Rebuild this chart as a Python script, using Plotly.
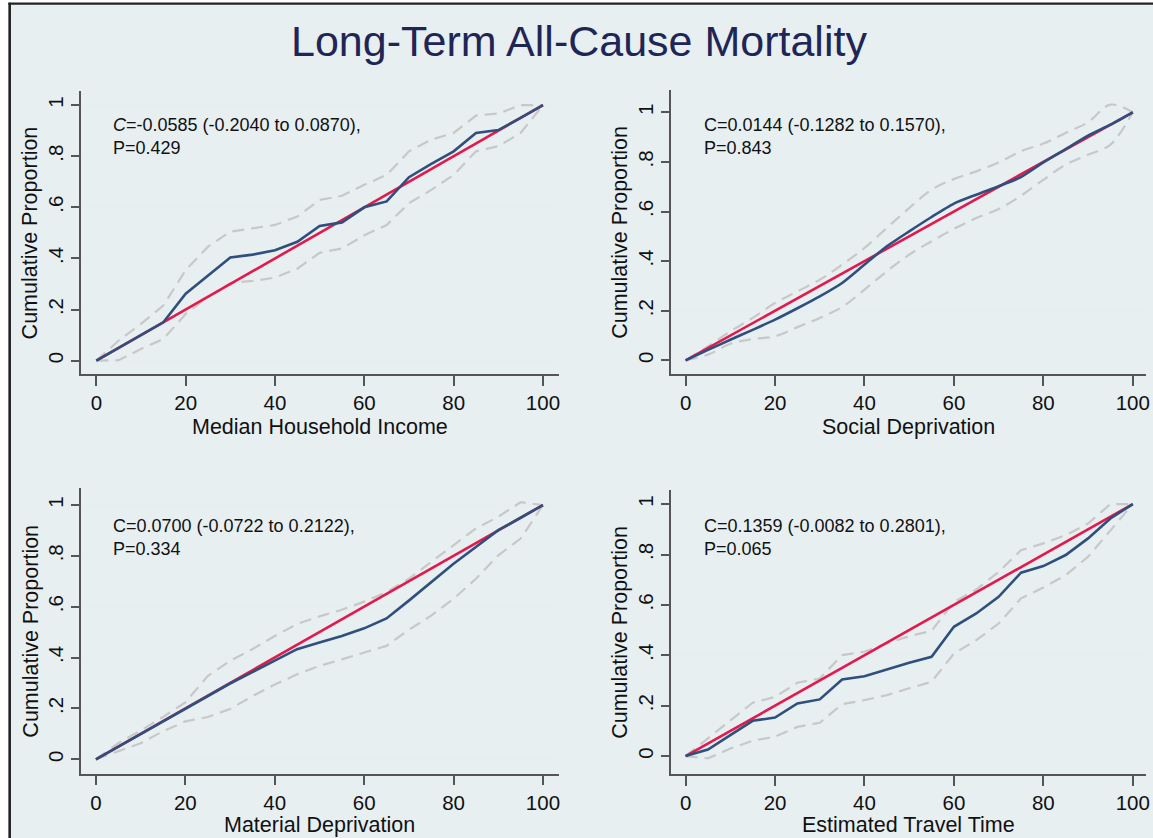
import plotly.graph_objects as go

W, H = 1153, 838

# Percentile grid shared by every panel
pct = [0, 5, 10, 15, 20, 25, 30, 35, 40, 45, 50, 55, 60, 65, 70, 75, 80, 85, 90, 95, 100]

# Line of equality
eq_x = [0, 100]
eq_y = [0, 1]

# Median Household Income
income_obs = [0, 0.05, 0.10, 0.15, 0.262, 0.334, 0.404, 0.415, 0.432, 0.465, 0.527,
              0.541, 0.600, 0.623, 0.718, 0.770, 0.819, 0.891, 0.902, 0.95, 1.0]
income_hi = [0, 0.079, 0.144, 0.216, 0.354, 0.446, 0.505, 0.518, 0.531, 0.564, 0.629,
             0.645, 0.688, 0.727, 0.819, 0.865, 0.891, 0.959, 0.967, 1.0, 1.0]
income_lo = [0, 0.002, 0.046, 0.085, 0.183, 0.249, 0.304, 0.312, 0.325, 0.360, 0.422,
             0.439, 0.491, 0.531, 0.616, 0.668, 0.727, 0.819, 0.839, 0.891, 1.0]

# Social Deprivation
social_obs = [0, 0.042, 0.083, 0.123, 0.164, 0.21, 0.258, 0.312, 0.386, 0.46, 0.52,
              0.578, 0.632, 0.668, 0.702, 0.739, 0.798, 0.852, 0.906, 0.95, 1.0]
social_hi = [0, 0.056, 0.117, 0.171, 0.231, 0.278, 0.325, 0.386, 0.453, 0.534, 0.614,
             0.688, 0.731, 0.762, 0.798, 0.843, 0.874, 0.917, 0.960, 1.031, 1.0]
social_lo = [0, 0.023, 0.067, 0.086, 0.097, 0.134, 0.171, 0.215, 0.285, 0.359, 0.426,
             0.48, 0.53, 0.574, 0.61, 0.664, 0.728, 0.789, 0.829, 0.87, 1.0]

# Material Deprivation
material_obs = [0, 0.05, 0.10, 0.15, 0.20, 0.25, 0.298, 0.343, 0.387, 0.433, 0.459,
                0.485, 0.515, 0.554, 0.624, 0.697, 0.769, 0.835, 0.901, 0.95, 1.0]
material_hi = [0, 0.063, 0.113, 0.166, 0.224, 0.327, 0.387, 0.433, 0.485, 0.532, 0.562,
               0.588, 0.62, 0.657, 0.71, 0.776, 0.842, 0.908, 0.954, 1.011, 1.0]
material_lo = [0, 0.03, 0.063, 0.11, 0.149, 0.166, 0.198, 0.248, 0.294, 0.334, 0.367,
               0.393, 0.42, 0.446, 0.509, 0.565, 0.631, 0.71, 0.802, 0.868, 1.0]

# Estimated Travel Time
travel_obs = [0, 0.026, 0.083, 0.14, 0.153, 0.209, 0.225, 0.304, 0.317, 0.344, 0.37,
              0.394, 0.513, 0.566, 0.632, 0.728, 0.754, 0.798, 0.864, 0.943, 1.0]
travel_hi = [0, 0.07, 0.143, 0.212, 0.235, 0.291, 0.308, 0.401, 0.414, 0.447, 0.476,
             0.497, 0.612, 0.661, 0.731, 0.817, 0.844, 0.877, 0.923, 1.0, 1.0]
travel_lo = [0, -0.009, 0.03, 0.061, 0.077, 0.116, 0.132, 0.206, 0.222, 0.242, 0.269,
             0.295, 0.407, 0.46, 0.526, 0.626, 0.669, 0.718, 0.791, 0.897, 1.0]

panel_titles = ["Median Household Income", "Social Deprivation",
                "Material Deprivation", "Estimated Travel Time"]
panel_stats = [
    "<i>C</i>=-0.0585 (-0.2040 to 0.0870),<br>P=0.429",
    "C=0.0144 (-0.1282 to 0.1570),<br>P=0.843",
    "C=0.0700 (-0.0722 to 0.2122),<br>P=0.334",
    "C=0.1359 (-0.0082 to 0.2801),<br>P=0.065",
]
y_title = "Cumulative Proportion"
x_ticks = [0, 20, 40, 60, 80, 100]
x_ticktext = ["0", "20", "40", "60", "80", "100"]
y_ticks = [0, 0.2, 0.4, 0.6, 0.8, 1]
y_ticktext = ["0", ".2", ".4", ".6", ".8", "1"]

series = [
    (income_obs, income_hi, income_lo),
    (social_obs, social_hi, social_lo),
    (material_obs, material_hi, material_lo),
    (travel_obs, travel_hi, travel_lo),
]

BG = "#e7eff1"
BLUE = "#2f4f7c"
RED = "#e3194e"
GREY = "#c8c8c8"
AXIS = "#555555"
INK = "#111111"
FONT = "Liberation Sans, Arial, sans-serif"

# Panel geometry in pixels: left, right, top, bottom of plot area
boxes = [
    (81, 561, 91, 374),
    (673, 1150, 90, 374),
    (81, 561, 488, 773.5),
    (673, 1150, 490, 774),
]
xranges = [[-3.5, 103.6], [-3.34, 102.96], [-3.4, 103.6], [-3.34, 102.96]]
yranges = [[-0.052, 1.055], [-0.055, 1.09], [-0.056, 1.067], [-0.071, 1.056]]
# Text block anchors (px): left x, vertical centre
stat_pos = [(111, 136), (704, 136), (111, 537), (704, 537)]
# Axis title centres (px)
xtitle_y = [427, 427, 825, 825]
ytitle_x = [31, 622, 31, 622]

fig = go.Figure()
layout = dict(
    width=W, height=H,
    margin=dict(l=0, r=0, t=0, b=0),
    paper_bgcolor="white",
    plot_bgcolor="white",
    showlegend=False,
    font=dict(family=FONT, color=INK),
)

annotations = []
for i, ((obs, hi, lo), box) in enumerate(zip(series, boxes)):
    n = "" if i == 0 else str(i + 1)
    xa, ya = "x" + n, "y" + n
    shape = "spline" if i == 1 else "linear"
    for band in (hi, lo):
        fig.add_trace(go.Scatter(
            x=pct, y=band, xaxis=xa, yaxis=ya, mode="lines",
            line=dict(color=GREY, width=2.2, dash="12px,7px", shape=shape),
            hoverinfo="skip"))
    fig.add_trace(go.Scatter(
        x=eq_x, y=eq_y, xaxis=xa, yaxis=ya, mode="lines",
        line=dict(color=RED, width=2.6), hoverinfo="skip"))
    fig.add_trace(go.Scatter(
        x=pct, y=obs, xaxis=xa, yaxis=ya, mode="lines",
        line=dict(color=BLUE, width=2.6, shape=shape, smoothing=0.6 if i == 1 else None)))

    l, r, t, b = box
    layout["xaxis" + n] = dict(
        domain=[l / W, r / W], range=xranges[i], anchor=ya,
        tickvals=x_ticks, ticktext=x_ticktext, ticks="outside", ticklen=10,
        tickwidth=1.5, tickcolor=AXIS, showline=True, linecolor=AXIS, linewidth=1.5,
        showgrid=False, zeroline=False, ticklabeloverflow="allow",
        tickfont=dict(size=20.5, family=FONT, color=INK),
        fixedrange=True,
    )
    layout["yaxis" + n] = dict(
        domain=[1 - b / H, 1 - t / H], range=yranges[i], anchor=xa,
        tickvals=y_ticks, ticktext=y_ticktext, ticks="outside", ticklen=8,
        tickwidth=1.5, tickcolor=AXIS, showline=True, linecolor=AXIS, linewidth=1.5,
        showgrid=True, gridcolor="#e6eef1", gridwidth=1.5, zeroline=False,
        tickangle=-90, tickfont=dict(size=20.5, family=FONT, color=INK),
        fixedrange=True,
    )
    sx, sy = stat_pos[i]
    annotations.append(dict(
        xref="paper", yref="paper", x=sx / W, y=1 - sy / H, xanchor="left", yanchor="middle",
        text=panel_stats[i], showarrow=False, align="left",
        font=dict(size=18, family=FONT, color=INK)))
    annotations.append(dict(
        xref="paper", yref="paper", x=(l + r) / 2 / W - 0.0, y=1 - xtitle_y[i] / H,
        xanchor="center", yanchor="middle", text=panel_titles[i], showarrow=False,
        font=dict(size=21.5, family=FONT, color=INK)))
    annotations.append(dict(
        xref="paper", yref="paper", x=ytitle_x[i] / W, y=1 - (t + b) / 2 / H,
        xanchor="center", yanchor="middle", text=y_title, showarrow=False, textangle=-90,
        font=dict(size=21.5, family=FONT, color=INK)))

# Overall title
annotations.append(dict(
    xref="paper", yref="paper", x=581 / W, y=1 - 41 / H, xanchor="center", yanchor="middle",
    text="Long-Term All-Cause Mortality", showarrow=False,
    font=dict(size=43, family=FONT, color="#1f2656")))

layout["annotations"] = annotations
# Graph region background with its dark frame on the left and top edges
layout["shapes"] = [
    dict(type="rect", xref="paper", yref="paper", x0=10 / W, x1=1.02, y0=-0.02, y1=1 - 3.7 / H,
         fillcolor=BG, line=dict(width=0), layer="below"),
    dict(type="line", xref="paper", yref="paper", x0=9.7 / W, x1=9.7 / W, y0=-0.02, y1=1 - 2.7 / H,
         line=dict(color="#222222", width=2.6), layer="below"),
    dict(type="line", xref="paper", yref="paper", x0=8.4 / W, x1=1.02, y0=1 - 3.7 / H, y1=1 - 3.7 / H,
         line=dict(color="#222222", width=2.2), layer="below"),
]
fig.update_layout(**layout)
fig.write_html("out.html")
